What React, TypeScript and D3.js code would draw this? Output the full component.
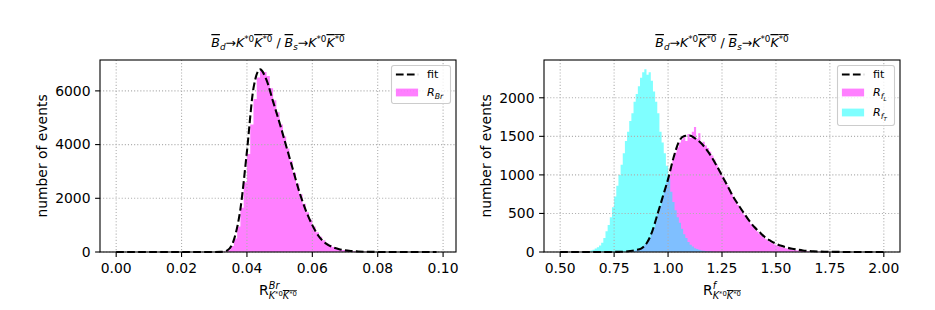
import React from 'react';
import * as d3 from 'd3';

// ---- left panel: R_Br, bins of 0.001 starting at 0.030
const brBinStart = 0.03;
const brBinWidth = 0.001;
const brCounts = [
  0, 0, 5, 20, 80, 220, 500, 950, 1650, 2600,
  3650, 4750, 5700, 6500, 6750, 6700, 6550, 6100, 5650, 5200,
  4750, 4300, 3850, 3400, 2950, 2550, 2150, 1800, 1480, 1200,
  950, 740, 570, 440, 330, 250, 190, 140, 105, 75,
  55, 40, 30, 20, 15, 10, 7, 5, 3, 2, 1,
];
// fit sampled every 0.002 from 0.000
const brFitStep = 0.002;
const brFit = [
  0, 0, 0, 0, 0, 0, 0, 0, 0, 0, 0, 0, 0, 0, 0, 0,
  5, 60, 450, 1600, 3750, 6100, 6800, 6400, 5600, 4800,
  3950, 3100, 2250, 1550, 1000, 580, 330, 190, 110, 60,
  35, 20, 10, 5,
  3, 2, 1, 1, 0, 0, 0, 0, 0, 0,
];

// ---- right panel: R_fL / R_fT, bins of 0.01
const fBinWidth = 0.01;
const fLBinStart = 0.8;
const fLCounts = [
  3, 5, 8, 12, 18, 25, 35, 50, 70, 100,
  130, 180, 240, 310, 400, 500, 600, 700, 810, 900,
  1000, 1100, 1210, 1290, 1360, 1420, 1460, 1500, 1440, 1530,
  1480, 1560, 1620, 1470, 1540, 1400, 1430, 1380, 1350, 1300,
  1250, 1200, 1140, 1080, 1030, 980, 920, 870, 810, 760,
  710, 660, 610, 560, 520, 480, 440, 400, 360, 330,
  295, 265, 235, 210, 185, 165, 145, 128, 112, 98,
  86, 75, 65, 57, 50, 43, 37, 32, 27, 23,
  20, 17, 14, 12, 10, 8, 7, 6, 5, 4,
  3, 3, 2, 2, 2, 1, 1, 1, 1, 1,
];
const fTBinStart = 0.62;
const fTCounts = [
  5, 10, 20, 30, 45, 60, 85, 120, 180, 270,
  350, 450, 580, 720, 860, 1000, 1130, 1280, 1440, 1560,
  1700, 1800, 1950, 2050, 2150, 2260, 2330, 2370, 2300, 2330,
  2220, 2080, 1950, 1800, 1560, 1420, 1280, 1120, 950, 780,
  650, 540, 450, 380, 300, 230, 180, 130, 95, 70,
  50, 38, 28, 20, 15, 10, 7, 5, 3,
];
// fit sampled every 0.025 from 0.500
const fFitStart = 0.5;
const fFitStep = 0.025;
const fFit = [
  0, 0, 0, 0, 0, 0, 0, 0, 0, 0, 1, 2,
  5, 13, 25, 44, 110, 255, 480, 712, 945, 1220,
  1430, 1505, 1510, 1475, 1420, 1340, 1240, 1120, 990, 860,
  725, 615, 510, 410, 324, 255, 190, 145, 108, 80,
  58, 42, 30, 20, 14, 9, 6, 4, 3, 2, 1,
  0, 0, 0, 0, 0, 0, 0, 0,
];

const brXTicks = [0, 0.02, 0.04, 0.06, 0.08, 0.1];
const brYTicks = [0, 2000, 4000, 6000];
const fXTicks = [0.5, 0.75, 1.0, 1.25, 1.5, 1.75, 2.0];
const fYTicks = [0, 500, 1000, 1500, 2000];

const MAGENTA = '#ff00ff';
const CYAN = '#00ffff';
const FONT = 'DejaVu Sans, sans-serif';
const AX_TOP = 60;
const AX_BOTTOM = 252;
const AX_W = 356;

type Hist = { start: number; width: number; counts: number[]; color: string };
type LegendRow = { y: number; kind: 'line' | 'patch'; color?: string; label: React.ReactNode };

const ov = { textDecoration: 'overline' };

function Title() {
  return (
    <>
      <tspan fontStyle="italic" style={ov}>B</tspan>
      <tspan fontStyle="italic" fontSize={8.8} baselineShift={-2.5}>d</tspan>
      <tspan>→</tspan>
      <tspan fontStyle="italic">K</tspan>
      <tspan fontSize={8.8} baselineShift={5}>*0</tspan>
      <tspan style={ov}>
        <tspan fontStyle="italic">K</tspan>
        <tspan fontSize={8.8} baselineShift={5}>*0</tspan>
      </tspan>
      <tspan> / </tspan>
      <tspan fontStyle="italic" style={ov}>B</tspan>
      <tspan fontStyle="italic" fontSize={8.8} baselineShift={-2.5}>s</tspan>
      <tspan>→</tspan>
      <tspan fontStyle="italic">K</tspan>
      <tspan fontSize={8.8} baselineShift={5}>*0</tspan>
      <tspan style={ov}>
        <tspan fontStyle="italic">K</tspan>
        <tspan fontSize={8.8} baselineShift={5}>*0</tspan>
      </tspan>
    </>
  );
}

function XLabel({ sup, supW }: { sup: string; supW: number }) {
  return (
    <>
      <tspan>R</tspan>
      <tspan fontStyle="italic" fontSize={9.7} baselineShift={6.5}>{sup}</tspan>
      <tspan fontStyle="italic" fontSize={9.7} baselineShift={-4} dx={-supW}>K</tspan>
      <tspan fontSize={6.8} baselineShift={-0.5}>*0</tspan>
      <tspan fontSize={9.7} baselineShift={-4} style={ov}>
        <tspan fontStyle="italic">K</tspan>
        <tspan fontSize={6.8} baselineShift={3.5}>*0</tspan>
      </tspan>
    </>
  );
}

function Panel(props: {
  left: number;
  xDomain: [number, number];
  yMax: number;
  xTicks: number[];
  yTicks: number[];
  hists: Hist[];
  fitX: number[];
  fitY: number[];
  xlabel: React.ReactNode;
  legendW: number;
  legendH: number;
  legendRows: LegendRow[];
}) {
  const { left, xDomain, yMax, xTicks, yTicks, hists, fitX, fitY } = props;
  const x = d3.scaleLinear().domain(xDomain).range([left, left + AX_W]);
  const y = d3.scaleLinear().domain([0, yMax]).range([AX_BOTTOM, AX_TOP]);
  const area = d3
    .area<[number, number]>()
    .curve(d3.curveStepAfter)
    .x((d) => x(d[0]))
    .y0(y(0))
    .y1((d) => y(d[1]));
  const line = d3
    .line<number>()
    .curve(d3.curveMonotoneX)
    .x((_, i) => x(fitX[i]))
    .y((d) => y(d));
  const fmt = d3.format('.2f');
  const cx = left + AX_W / 2;
  const lx = left + AX_W - 5.5 - props.legendW;
  const ly = AX_TOP + 5.5;

  return (
    <g fontFamily={FONT}>
      {hists.map((h, k) => {
        const pts: [number, number][] = h.counts.map((c, i) => [h.start + i * h.width, c]);
        pts.push([h.start + h.counts.length * h.width, h.counts[h.counts.length - 1]]);
        return <path key={k} d={area(pts) || ''} fill={h.color} fillOpacity={0.5} />;
      })}
      {/* grid */}
      {xTicks.map((t) => (
        <line key={'gx' + t} x1={x(t)} x2={x(t)} y1={AX_TOP} y2={AX_BOTTOM}
          stroke="#b0b0b0" strokeWidth={1.1} strokeDasharray="1.1,2" />
      ))}
      {yTicks.map((t) => (
        <line key={'gy' + t} x1={left} x2={left + AX_W} y1={y(t)} y2={y(t)}
          stroke="#b0b0b0" strokeWidth={1.1} strokeDasharray="1.1,2" />
      ))}
      <path d={line(fitY) || ''} fill="none" stroke="#000" strokeWidth={2.08} strokeDasharray="7.7,3.3" />
      {/* spines */}
      <rect x={left} y={AX_TOP} width={AX_W} height={AX_BOTTOM - AX_TOP} fill="none" stroke="#000" strokeWidth={1.1} />
      {/* ticks */}
      {xTicks.map((t) => (
        <g key={'tx' + t}>
          <line x1={x(t)} x2={x(t)} y1={AX_BOTTOM} y2={AX_BOTTOM + 4.9} stroke="#000" strokeWidth={1.1} />
          <text x={x(t)} y={AX_BOTTOM + 20.5} fontSize={13.9} textAnchor="middle">{fmt(t)}</text>
        </g>
      ))}
      {yTicks.map((t) => (
        <g key={'ty' + t}>
          <line x1={left - 4.9} x2={left} y1={y(t)} y2={y(t)} stroke="#000" strokeWidth={1.1} />
          <text x={left - 9.5} y={y(t)} dy="0.35em" fontSize={13.9} textAnchor="end">{t}</text>
        </g>
      ))}
      <text transform={`translate(${left - 53},${(AX_TOP + AX_BOTTOM) / 2}) rotate(-90)`} fontSize={13.9} textAnchor="middle">
        number of events
      </text>
      <text x={cx} y={295} fontSize={13.9} textAnchor="middle">{props.xlabel}</text>
      <text x={cx} y={47} fontSize={12.5} textAnchor="middle"><Title /></text>
      {/* legend */}
      <g transform={`translate(${lx},${ly})`}>
        <rect x={0} y={0} width={props.legendW} height={props.legendH} rx={2.5}
          fill="#fff" fillOpacity={0.8} stroke="#cccccc" strokeWidth={1.1} />
        {props.legendRows.map((r, i) => (
          <g key={i}>
            {r.kind === 'line' ? (
              <line x1={4.4} x2={26.6} y1={r.y} y2={r.y} stroke="#000" strokeWidth={2.08} strokeDasharray="7.7,3.3" />
            ) : (
              <rect x={4.4} y={r.y - 3.9} width={22.2} height={7.8} fill={r.color} fillOpacity={0.5} />
            )}
            <text x={35.5} y={r.y} dy="0.35em" fontSize={11.1}>{r.label}</text>
          </g>
        ))}
      </g>
    </g>
  );
}

export default function App() {
  const brFitX = brFit.map((_, i) => i * brFitStep);
  const fFitX = fFit.map((_, i) => fFitStart + i * fFitStep);
  return (
    <svg width={935} height={310} style={{ position: 'absolute', left: 0, top: 0, background: '#fff' }}>
      <rect width={935} height={310} fill="#fff" />
      <Panel
        left={100}
        xDomain={[-0.00495, 0.10395]}
        yMax={7150}
        xTicks={brXTicks}
        yTicks={brYTicks}
        hists={[{ start: brBinStart, width: brBinWidth, counts: brCounts, color: MAGENTA }]}
        fitX={brFitX}
        fitY={brFit}
        xlabel={<XLabel sup="Br" supW={10.7} />}
        legendW={59}
        legendH={38}
        legendRows={[
          { y: 9, kind: 'line', label: 'fit' },
          {
            y: 27, kind: 'patch', color: MAGENTA,
            label: (<><tspan fontStyle="italic">R</tspan><tspan fontStyle="italic" fontSize={7.8} baselineShift={-2.5}>Br</tspan></>),
          },
        ]}
      />
      <Panel
        left={544}
        xDomain={[0.425, 2.075]}
        yMax={2490}
        xTicks={fXTicks}
        yTicks={fYTicks}
        hists={[
          { start: fLBinStart, width: fBinWidth, counts: fLCounts, color: MAGENTA },
          { start: fTBinStart, width: fBinWidth, counts: fTCounts, color: CYAN },
        ]}
        fitX={fFitX}
        fitY={fFit}
        xlabel={<XLabel sup="f" supW={3.4} />}
        legendW={57}
        legendH={60}
        legendRows={[
          { y: 9, kind: 'line', label: 'fit' },
          {
            y: 27, kind: 'patch', color: MAGENTA,
            label: (<><tspan fontStyle="italic">R</tspan><tspan fontStyle="italic" fontSize={7.8} baselineShift={-2.5}>f</tspan><tspan fontStyle="italic" fontSize={5.5} baselineShift={-4.5}>L</tspan></>),
          },
          {
            y: 47, kind: 'patch', color: CYAN,
            label: (<><tspan fontStyle="italic">R</tspan><tspan fontStyle="italic" fontSize={7.8} baselineShift={-2.5}>f</tspan><tspan fontStyle="italic" fontSize={5.5} baselineShift={-4.5}>T</tspan></>),
          },
        ]}
      />
    </svg>
  );
}
